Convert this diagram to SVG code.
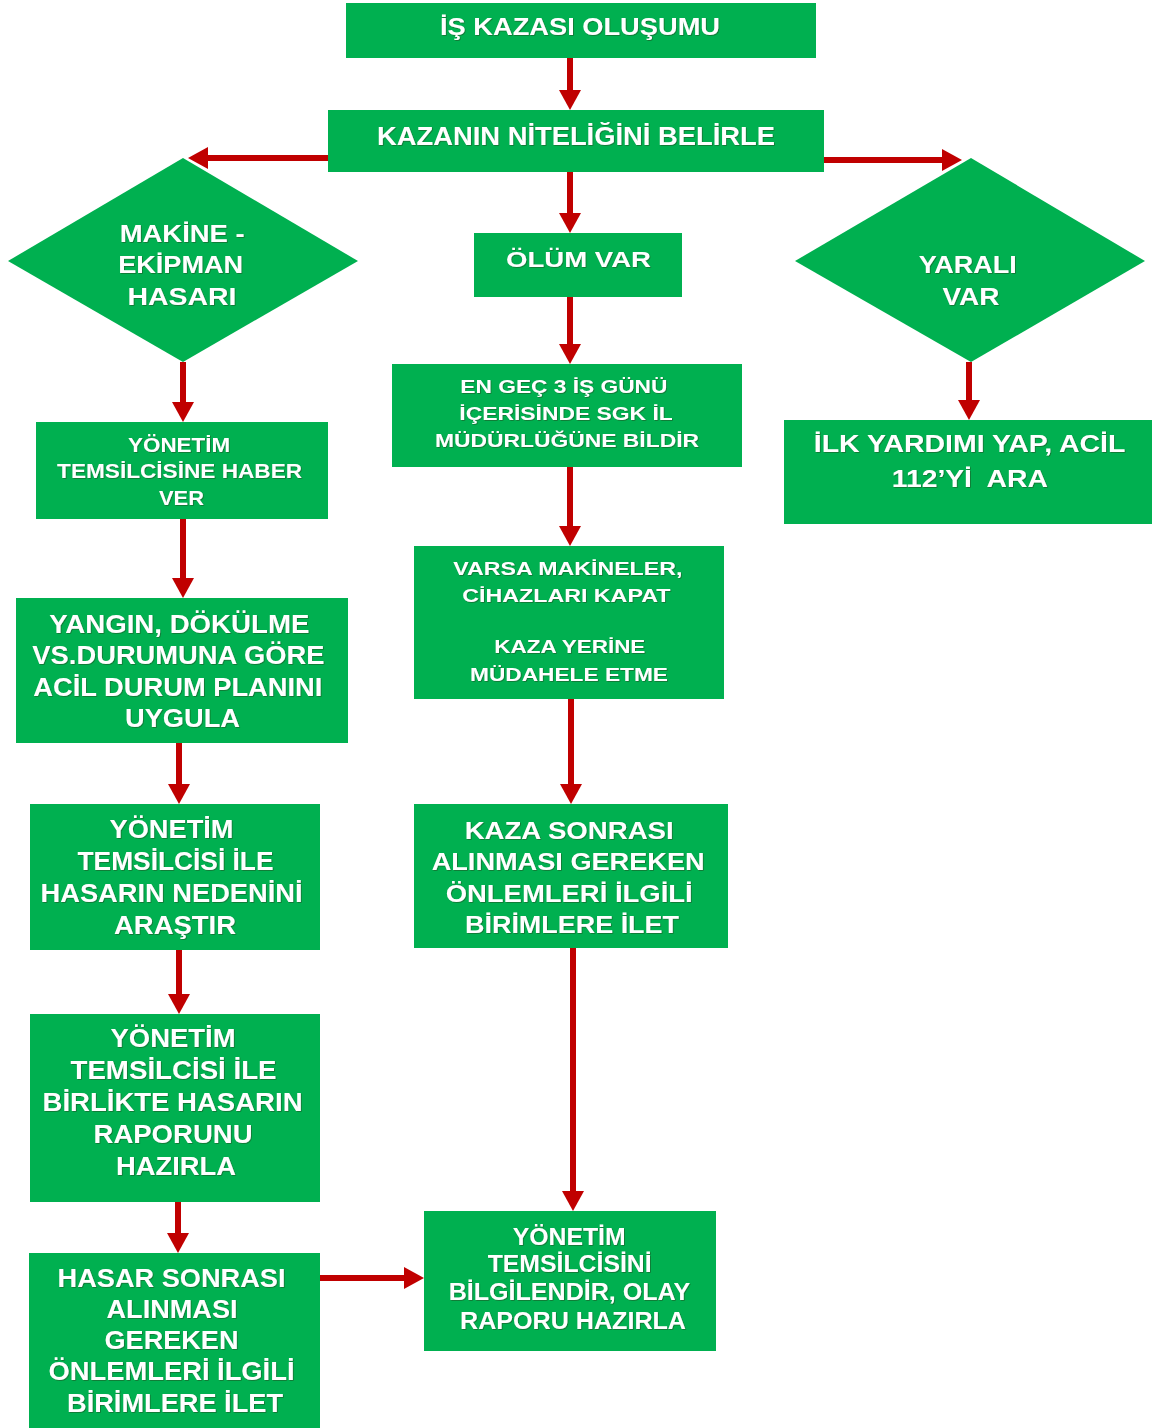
<svg xmlns="http://www.w3.org/2000/svg" width="1152" height="1428" viewBox="0 0 1152 1428">
<defs>
<style>
.n{fill:#00B050;}
.t{font-family:"Liberation Sans",Arial,sans-serif;font-weight:bold;fill:#ffffff;text-anchor:middle;filter:url(#sh);}
.c{stroke:#C00000;stroke-width:6;fill:none;marker-end:url(#ah);}
</style>
<filter id="sh" x="-5%" y="-20%" width="110%" height="140%">
<feDropShadow dx="0.8" dy="0.8" stdDeviation="0.3" flood-color="#2a3a10" flood-opacity="0.55"/>
</filter>
<marker id="ah" markerUnits="userSpaceOnUse" markerWidth="20" markerHeight="22" refX="0" refY="11" orient="auto" viewBox="0 0 20 22">
<polygon points="0,0 20,11 0,22" fill="#C00000"/>
</marker>
</defs>
<rect width="1152" height="1428" fill="#ffffff"/>

<g id="connectors">
<line class="c" x1="570" y1="58" x2="570" y2="90"/>
<line class="c" x1="328" y1="158" x2="208" y2="158"/>
<line class="c" x1="824" y1="160" x2="942" y2="160"/>
<line class="c" x1="570" y1="172" x2="570" y2="213"/>
<line class="c" x1="570" y1="297" x2="570" y2="344"/>
<line class="c" x1="570" y1="467" x2="570" y2="526"/>
<line class="c" x1="571" y1="699" x2="571" y2="784"/>
<line class="c" x1="573" y1="948" x2="573" y2="1191"/>
<line class="c" x1="183" y1="362" x2="183" y2="402"/>
<line class="c" x1="183" y1="519" x2="183" y2="578"/>
<line class="c" x1="179" y1="743" x2="179" y2="784"/>
<line class="c" x1="179" y1="950" x2="179" y2="994"/>
<line class="c" x1="178" y1="1202" x2="178" y2="1233"/>
<line class="c" x1="320" y1="1278" x2="404" y2="1278"/>
<line class="c" x1="969" y1="362" x2="969" y2="400"/>
</g>

<g id="n1">
<rect class="n" x="346" y="3" width="470" height="55"/>
<text class="t" x="580" y="35" font-size="23" textLength="280" lengthAdjust="spacingAndGlyphs">İŞ KAZASI OLUŞUMU</text>
</g>

<g id="n2">
<rect class="n" x="328" y="110" width="496" height="62"/>
<text class="t" x="576" y="145" font-size="25" textLength="398" lengthAdjust="spacingAndGlyphs">KAZANIN NİTELİĞİNİ BELİRLE</text>
</g>

<g id="n3">
<polygon class="n" points="183,158 358,261 183,362 8,261"/>
<text class="t" font-size="24">
<tspan x="185.5" y="242" textLength="125" lengthAdjust="spacingAndGlyphs">MAKİNE -</tspan>
<tspan x="184" y="273" textLength="125" lengthAdjust="spacingAndGlyphs">EKİPMAN</tspan>
<tspan x="182" y="305" textLength="109" lengthAdjust="spacingAndGlyphs">HASARI</tspan>
</text>
</g>

<g id="n4">
<rect class="n" x="474" y="233" width="208" height="64"/>
<text class="t" x="578.5" y="267" font-size="22" textLength="145" lengthAdjust="spacingAndGlyphs">ÖLÜM VAR</text>
</g>

<g id="n5">
<polygon class="n" points="971,158 1145,261 971,362 795,261"/>
<text class="t" font-size="24">
<tspan x="971" y="273" textLength="98" lengthAdjust="spacingAndGlyphs">YARALI</tspan>
<tspan x="971" y="305" textLength="57" lengthAdjust="spacingAndGlyphs">VAR</tspan>
</text>
</g>

<g id="n6">
<rect class="n" x="36" y="422" width="292" height="97"/>
<text class="t" font-size="21">
<tspan x="182" y="452" textLength="102" lengthAdjust="spacingAndGlyphs">YÖNETİM</tspan>
<tspan x="182.5" y="478" textLength="245" lengthAdjust="spacingAndGlyphs">TEMSİLCİSİNE HABER</tspan>
<tspan x="181.5" y="505" textLength="45" lengthAdjust="spacingAndGlyphs">VER</tspan>
</text>
</g>

<g id="n7">
<rect class="n" x="392" y="364" width="350" height="103"/>
<text class="t" font-size="19">
<tspan x="566.5" y="393" textLength="207" lengthAdjust="spacingAndGlyphs">EN GEÇ 3 İŞ GÜNÜ</tspan>
<tspan x="568.5" y="420" textLength="213" lengthAdjust="spacingAndGlyphs">İÇERİSİNDE SGK İL</tspan>
<tspan x="567" y="447" textLength="264" lengthAdjust="spacingAndGlyphs">MÜDÜRLÜĞÜNE BİLDİR</tspan>
</text>
</g>

<g id="n8">
<rect class="n" x="784" y="420" width="368" height="104"/>
<text class="t" font-size="23" style="white-space:pre">
<tspan x="972.5" y="452" textLength="311" lengthAdjust="spacingAndGlyphs">İLK YARDIMI YAP, ACİL</tspan>
<tspan x="972.5" y="487" textLength="155" lengthAdjust="spacingAndGlyphs">112’Yİ  ARA</tspan>
</text>
</g>

<g id="n9">
<rect class="n" x="16" y="598" width="332" height="145"/>
<text class="t" font-size="26">
<tspan x="183" y="633" textLength="260" lengthAdjust="spacingAndGlyphs">YANGIN, DÖKÜLME</tspan>
<tspan x="182" y="664" textLength="292" lengthAdjust="spacingAndGlyphs">VS.DURUMUNA GÖRE</tspan>
<tspan x="181.5" y="696" textLength="289" lengthAdjust="spacingAndGlyphs">ACİL DURUM PLANINI</tspan>
<tspan x="182.5" y="727" textLength="115" lengthAdjust="spacingAndGlyphs">UYGULA</tspan>
</text>
</g>

<g id="n10">
<rect class="n" x="414" y="546" width="310" height="153"/>
<text class="t" font-size="19">
<tspan x="570.5" y="575" textLength="229" lengthAdjust="spacingAndGlyphs">VARSA MAKİNELER,</tspan>
<tspan x="569" y="602" textLength="208" lengthAdjust="spacingAndGlyphs">CİHAZLARI KAPAT</tspan>
<tspan x="572.5" y="653" textLength="151" lengthAdjust="spacingAndGlyphs">KAZA YERİNE</tspan>
<tspan x="569" y="681" textLength="198" lengthAdjust="spacingAndGlyphs">MÜDAHELE ETME</tspan>
</text>
</g>

<g id="n11">
<rect class="n" x="30" y="804" width="290" height="146"/>
<text class="t" font-size="25">
<tspan x="175" y="838" textLength="124" lengthAdjust="spacingAndGlyphs">YÖNETİM</tspan>
<tspan x="179" y="870" textLength="196" lengthAdjust="spacingAndGlyphs">TEMSİLCİSİ İLE</tspan>
<tspan x="175" y="902" textLength="262" lengthAdjust="spacingAndGlyphs">HASARIN NEDENİNİ</tspan>
<tspan x="175" y="934" textLength="122" lengthAdjust="spacingAndGlyphs">ARAŞTIR</tspan>
</text>
</g>

<g id="n12">
<rect class="n" x="414" y="804" width="314" height="144"/>
<text class="t" font-size="24">
<tspan x="572.5" y="839" textLength="209" lengthAdjust="spacingAndGlyphs">KAZA SONRASI</tspan>
<tspan x="571.5" y="870" textLength="273" lengthAdjust="spacingAndGlyphs">ALINMASI GEREKEN</tspan>
<tspan x="572.5" y="902" textLength="247" lengthAdjust="spacingAndGlyphs">ÖNLEMLERİ İLGİLİ</tspan>
<tspan x="572" y="933" textLength="214" lengthAdjust="spacingAndGlyphs">BİRİMLERE İLET</tspan>
</text>
</g>

<g id="n13">
<rect class="n" x="30" y="1014" width="290" height="188"/>
<text class="t" font-size="25">
<tspan x="176.5" y="1047" textLength="125" lengthAdjust="spacingAndGlyphs">YÖNETİM</tspan>
<tspan x="177" y="1079" textLength="206" lengthAdjust="spacingAndGlyphs">TEMSİLCİSİ İLE</tspan>
<tspan x="176" y="1111" textLength="260" lengthAdjust="spacingAndGlyphs">BİRLİKTE HASARIN</tspan>
<tspan x="176.5" y="1143" textLength="159" lengthAdjust="spacingAndGlyphs">RAPORUNU</tspan>
<tspan x="176" y="1175" textLength="120" lengthAdjust="spacingAndGlyphs">HAZIRLA</tspan>
</text>
</g>

<g id="n14">
<rect class="n" x="29" y="1253" width="291" height="175"/>
<text class="t" font-size="25">
<tspan x="175" y="1287" textLength="228" lengthAdjust="spacingAndGlyphs">HASAR SONRASI</tspan>
<tspan x="175.5" y="1318" textLength="131" lengthAdjust="spacingAndGlyphs">ALINMASI</tspan>
<tspan x="175" y="1349" textLength="134" lengthAdjust="spacingAndGlyphs">GEREKEN</tspan>
<tspan x="175" y="1380" textLength="246" lengthAdjust="spacingAndGlyphs">ÖNLEMLERİ İLGİLİ</tspan>
<tspan x="175" y="1412" textLength="216" lengthAdjust="spacingAndGlyphs">BİRİMLERE İLET</tspan>
</text>
</g>

<g id="n15">
<rect class="n" x="424" y="1211" width="292" height="140"/>
<text class="t" font-size="24">
<tspan x="572.5" y="1245" textLength="113" lengthAdjust="spacingAndGlyphs">YÖNETİM</tspan>
<tspan x="573" y="1272" textLength="164" lengthAdjust="spacingAndGlyphs">TEMSİLCİSİNİ</tspan>
<tspan x="572.5" y="1300" textLength="241" lengthAdjust="spacingAndGlyphs">BİLGİLENDİR, OLAY</tspan>
<tspan x="573" y="1329" textLength="226" lengthAdjust="spacingAndGlyphs">RAPORU HAZIRLA</tspan>
</text>
</g>
</svg>
